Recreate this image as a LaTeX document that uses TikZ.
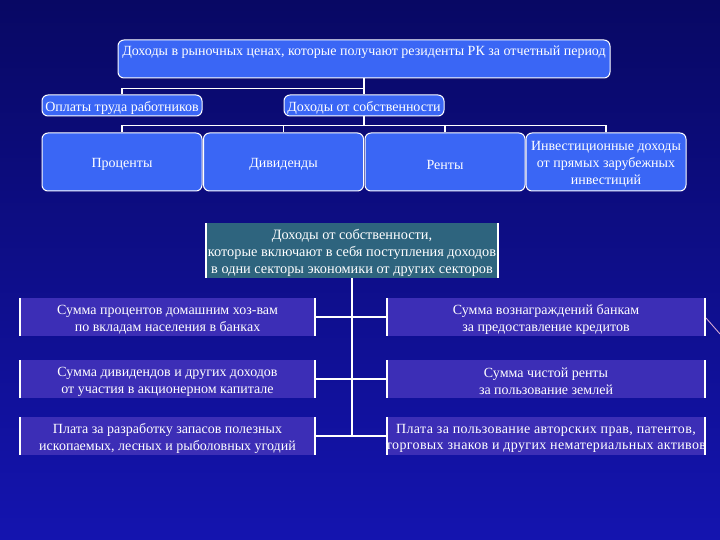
\documentclass[tikz,border=0pt]{standalone}
\usepackage{fontspec}
\setmainfont{Liberation Serif}
\definecolor{bgtop}{RGB}{8,8,100}
\definecolor{bgbot}{RGB}{20,20,175}
\definecolor{topblue}{RGB}{58,102,245}
\definecolor{rowblue}{RGB}{60,46,182}
\definecolor{midteal}{RGB}{46,100,126}
\begin{document}
\begin{tikzpicture}[x=1pt,y=-1pt,
  every node/.style={font=\fontsize{14}{16.8}\selectfont, text=white, inner sep=0pt, align=center},
  lbl/.style={yshift=-2.5pt, inner sep=0pt, align=center},
  txt/.style={label={[lbl]center:#1}},
  topbox/.style={draw=white, line width=1pt, fill=topblue, rounded corners=6pt, minimum width=160pt},
  midbox/.style={fill=midteal, minimum width=292pt, minimum height=55pt},
  lbox/.style={fill=rowblue, minimum width=295pt, minimum height=38pt},
  rbox/.style={fill=rowblue, minimum width=318pt, minimum height=38pt},
  link/.style={draw=white, line width=1.4pt},
  bar/.style={draw=white, line width=1.6pt}]
\useasboundingbox (0,0) rectangle (720,540);
\fill[top color=bgtop, bottom color=bgbot] (0,0) rectangle (720,540);
\draw[white!65!violet, line width=0.9pt] (706,318) -- (720,334);

% top
\node[topbox, minimum width=492pt, minimum height=38pt] (root) at (364,59) {};
\node[anchor=north] (roott) at ([yshift=-6.5pt]root.north) {Доходы в рыночных ценах, которые получают резиденты РК за отчетный период};

% second row
\node[topbox, minimum height=21pt, txt={Оплаты труда работников}] (wage) at (122,105.5) {};
\node[topbox, minimum height=21pt, txt={Доходы от собственности}] (prop) at (364,105.5) {};

% third row
\node[topbox, minimum height=58pt, txt={Проценты}] (pct) at (122,162) {};
\node[topbox, minimum height=58pt, txt={Дивиденды}] (div) at (283.5,162) {};
\node[topbox, minimum height=58pt, txt={Ренты}] (rent) at (445,162) {};
\node[topbox, minimum height=58pt, txt={Инвестиционные доходы\\от прямых зарубежных\\инвестиций}] (inv) at (606,162) {};

% middle
\node[midbox, label={[lbl, font=\fontsize{14.3}{17}\selectfont]center:{Доходы от собственности,\\которые включают в себя поступления доходов\\в одни секторы экономики от других секторов}}] (mid) at (352,250.5) {};

% left column
\node[lbox, txt={Сумма процентов домашним хоз-вам\\по вкладам населения в банках}] (l1) at (167.5,317) {};
\node[lbox, txt={Сумма дивидендов и других доходов\\от участия в акционерном капитале}] (l2) at (167.5,379) {};
\node[lbox, txt={Плата за разработку запасов полезных\\ископаемых, лесных и рыболовных угодий}] (l3) at (167.5,436) {};

% right column
\node[rbox, txt={Сумма вознаграждений банкам\\за предоставление кредитов}] (r1) at (546,317) {};
\node[rbox, txt={Сумма чистой ренты\\за пользование землей}] (r2) at (546,379) {};
\node[rbox, label={[lbl, font=\fontsize{14}{16.8}\selectfont\addfontfeature{LetterSpace=2.5}]center:{Плата за пользование авторских прав, патентов,\\торговых знаков и других нематериальных активов}}] (r3) at (546,436) {};

\foreach \n in {mid,l1,l2,l3,r1,r2,r3}
  \draw[bar] (\n.north west) -- (\n.south west) (\n.north east) -- (\n.south east);

% connectors
\draw[link] (root.south) -- (prop.north);
\draw[link] (wage.north) -- ++(0,-6) -| (root.south);
\draw[link] (prop.south) -- ++(0,10);
\draw[link] (pct.north) -- ++(0,-7) -| (inv.north);
\draw[link] (div.north) -- ++(0,-7);
\draw[link] (rent.north) -- ++(0,-7);
\draw[link] (mid.south) -- (mid.south |- l3.east);
\foreach \n in {l1,l2,l3} \draw[link] (\n.east) -- (\n.east -| mid.south);
\foreach \n in {r1,r2,r3} \draw[link] (\n.west) -- (\n.west -| mid.south);
\end{tikzpicture}
\end{document}
